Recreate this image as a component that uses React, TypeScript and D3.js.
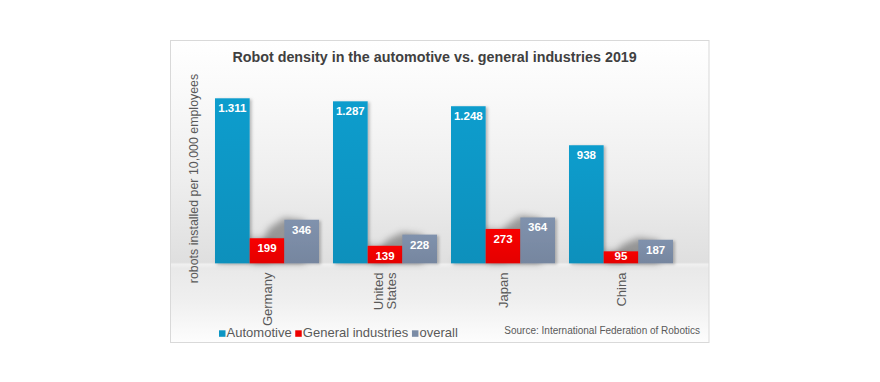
import React, { useEffect, useRef } from "react";
import * as d3 from "d3";

const countries = ["Germany", "United States", "Japan", "China"];
const countryLines = [["Germany"], ["United", "States"], ["Japan"], ["China"]];
const seriesNames = ["Automotive", "General industries", "overall"];
const automotive = [1311, 1287, 1248, 938];
const general = [199, 139, 273, 95];
const overall = [346, 228, 364, 187];
const seriesColors = ["#0c96c4", "#ee0000", "#7b8ca6"];
const titleText = "Robot density in the automotive vs. general industries 2019";
const yTitle = "robots installed per 10,000 employees";
const sourceText = "Source: International Federation of Robotics";

const W = 880;
const H = 382;
const FONT = "Liberation Sans, Arial, sans-serif";

export default function App() {
  const ref = useRef<SVGSVGElement>(null);

  useEffect(() => {
    const svg = d3.select(ref.current);
    svg.selectAll("*").remove();

    const frame = { x: 170.5, y: 40.5, w: 538.5, h: 302 };
    const base = 263.3;
    const values = [automotive, general, overall];

    const x = d3.scaleBand<string>().domain(countries).range([208, 680])
      .paddingInner(14 / 118).paddingOuter(7 / 118);
    const xs = d3.scaleBand<number>().domain([0, 1, 2]).range([0, x.bandwidth()]);
    const y = d3.scaleLinear().domain([0, 1400]).range([base, base - 1400 * 0.12586]);
    const fmt = d3.formatLocale({ decimal: ",", thousands: ".", grouping: [3], currency: ["", "€"] }).format(",");

    const defs = svg.append("defs");
    const bg = defs.append("linearGradient").attr("id", "bg")
      .attr("gradientUnits", "userSpaceOnUse").attr("x1", 0).attr("x2", 0)
      .attr("y1", frame.y).attr("y2", frame.y + frame.h);
    const stops: [number, string][] = [
      [frame.y, "#ffffff"], [95, "#f9f9f9"], [180, "#eeeeee"], [base - 1, "#dfdfdf"],
      [base + 1, "#f0f0f0"], [base + 5, "#e9e9e9"], [300, "#efefef"], [frame.y + frame.h, "#fdfdfd"],
    ];
    stops.forEach(([yy, c]) => bg.append("stop")
      .attr("offset", (yy - frame.y) / frame.h).attr("stop-color", c));

    const blur = defs.append("filter").attr("id", "blur")
      .attr("x", "-50%").attr("y", "-50%").attr("width", "200%").attr("height", "200%");
    blur.append("feGaussianBlur").attr("stdDeviation", 3.5);

    const ds = defs.append("filter").attr("id", "ds")
      .attr("x", "-20%").attr("y", "-20%").attr("width", "150%").attr("height", "140%");
    ds.append("feDropShadow").attr("dx", 2).attr("dy", 1).attr("stdDeviation", 1.5)
      .attr("flood-color", "#000").attr("flood-opacity", 0.25);

    seriesColors.forEach((c, i) => {
      const g = defs.append("linearGradient").attr("id", "bar" + i)
        .attr("x1", 0).attr("x2", 0).attr("y1", 0).attr("y2", 1);
      g.append("stop").attr("offset", 0).attr("stop-color", d3.color(c)!.brighter(0.12).toString());
      g.append("stop").attr("offset", 1).attr("stop-color", d3.color(c)!.darker(0.12).toString());
    });

    svg.append("rect").attr("x", frame.x).attr("y", frame.y)
      .attr("width", frame.w).attr("height", frame.h)
      .attr("fill", "url(#bg)").attr("stroke", "#d9d9d9").attr("stroke-width", 1);

    svg.append("text").attr("x", 434.6).attr("y", 62)
      .attr("text-anchor", "middle").attr("font-family", FONT)
      .attr("font-size", 14.3).attr("font-weight", "bold").attr("fill", "#404040")
      .text(titleText);

    svg.append("text")
      .attr("transform", `translate(197.5, ${178.5}) rotate(-90)`)
      .attr("text-anchor", "middle").attr("font-family", FONT)
      .attr("font-size", 12.4).attr("fill", "#595959").text(yTitle);

    // shadows behind the short bars
    const shadowG = svg.append("g").attr("filter", "url(#blur)");
    countries.forEach((c, ci) => {
      [1, 2].forEach((si) => {
        const x0 = (x(c) ?? 0) + (xs(si) ?? 0);
        const w = xs.bandwidth();
        const top = y(values[si][ci]);
        const h = base - top;
        const pts: [number, number][] = [
          [x0 + w * 0.6, base], [x0 + w * 0.6, top + 1],
          [x0, top - 2], [x0 - w * 0.45, top + h * 0.2], [x0 - w * 0.95, base],
        ];
        shadowG.append("polygon").attr("points", pts.map((p) => p.join(",")).join(" "))
          .attr("fill", "#000").attr("opacity", si === 2 ? 0.34 : 0.2);
      });
    });

    const groups = svg.append("g").selectAll("g").data(countries).join("g")
      .attr("transform", (d) => `translate(${x(d)},0)`);

    groups.each(function (c, ci) {
      const g = d3.select(this);
      [0, 1, 2].forEach((si) => {
        const v = values[si][ci];
        const bx = xs(si) ?? 0;
        g.append("rect").attr("x", bx).attr("y", y(v))
          .attr("width", xs.bandwidth()).attr("height", base - y(v))
          .attr("fill", `url(#bar${si})`).attr("filter", "url(#ds)");
        g.append("text").attr("x", bx + xs.bandwidth() / 2)
          .attr("y", Math.min(y(v) + 14, base - 3.5))
          .attr("text-anchor", "middle").attr("font-family", FONT)
          .attr("font-size", 11.5).attr("font-weight", "bold").attr("fill", "#ffffff")
          .text(fmt(v));
      });
    });

    // category labels
    countries.forEach((c, ci) => {
      const lines = countryLines[ci];
      const cx = (x(c) ?? 0) + x.bandwidth() / 2;
      const lh = 12.5;
      const t = svg.append("text")
        .attr("transform", `translate(${cx - ((lines.length - 1) * lh) / 2 + 4.6}, 272.6) rotate(-90)`)
        .attr("text-anchor", "end").attr("font-family", FONT)
        .attr("font-size", 13).attr("fill", "#595959");
      lines.forEach((l, li) => t.append("tspan").attr("x", 0).attr("y", li * lh).text(l));
    });

    // legend
    let lx = 219;
    seriesNames.forEach((s, i) => {
      svg.append("rect").attr("x", lx).attr("y", 330.3).attr("width", 6.5).attr("height", 6.5)
        .attr("fill", seriesColors[i]);
      const t = svg.append("text").attr("x", lx + 7.6).attr("y", 337.2)
        .attr("font-family", FONT).attr("font-size", 13).attr("fill", "#595959").text(s);
      const len = (t.node() as SVGTextElement).getComputedTextLength();
      lx = lx + 7.6 + len + 3.6;
    });

    svg.append("text").attr("x", 700).attr("y", 334)
      .attr("text-anchor", "end").attr("font-family", FONT)
      .attr("font-size", 10).attr("fill", "#595959").text(sourceText);
  }, []);

  return (
    <svg ref={ref} width={W} height={H} style={{ position: "absolute", left: 0, top: 0, background: "#fff" }} />
  );
}
